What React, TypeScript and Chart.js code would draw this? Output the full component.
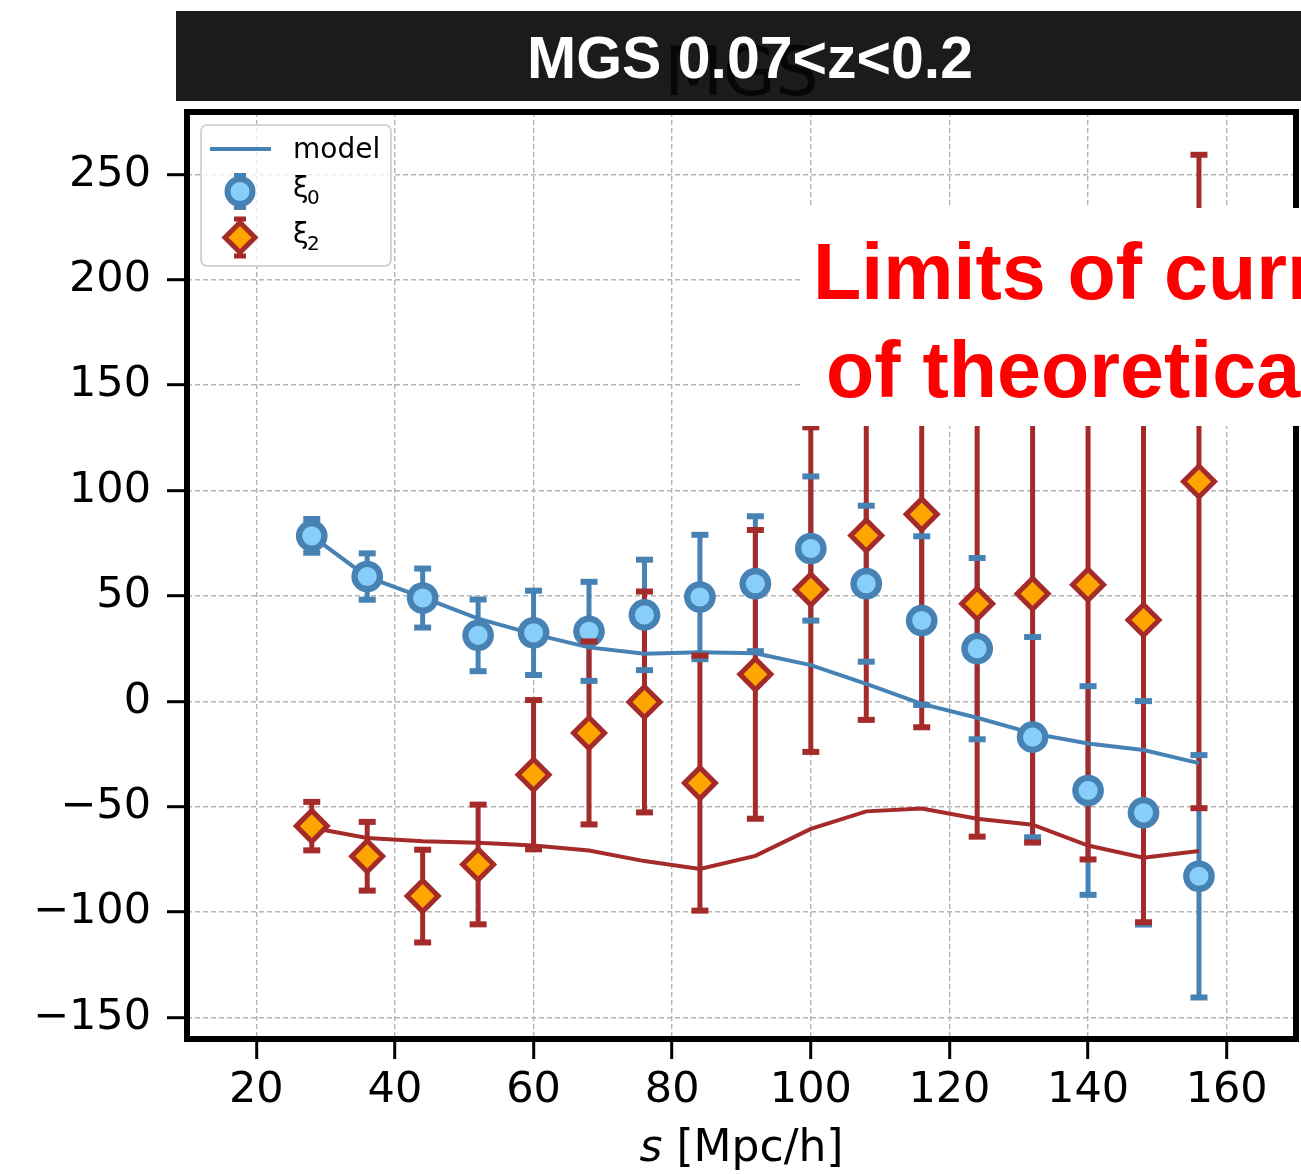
import React, { useEffect, useRef } from 'react';
import { Chart, registerables } from 'chart.js';

Chart.register(...registerables);

// ---- data ----
const sValues = [28, 36, 44, 52, 60, 68, 76, 84, 92, 100, 108, 116, 124, 132, 140, 148, 156];
const xi0 = [78.5, 59.2, 49.0, 31.3, 32.5, 33.2, 41.0, 49.5, 55.8, 72.5, 55.8, 38.3, 25.0, -17.0, -42.3, -52.9, -83.0];
const xi0Err = [8, 11, 14, 17, 20, 23.5, 26.2, 29.5, 32, 34.2, 37, 40, 43, 47.5, 49.5, 53, 57.5];
const xi2 = [-59.2, -73.5, -92.4, -77.4, -34.8, -15.0, -0.3, -38.8, 12.8, 53.0, 78.7, 88.7, 46.3, 51.0, 55.3, 38.6, 104.3];
const xi2Err = [11.5, 16.3, 22, 28.4, 35.4, 43.4, 52.4, 60.5, 68.5, 77, 87.5, 101, 110.5, 118, 130.3, 143.4, 155];
const modelXi0 = [78.5, 59.0, 49.3, 39.2, 31.9, 25.6, 22.6, 23.3, 22.8, 17.2, 8.3, -1.2, -7.8, -15.2, -20.0, -23.1, -29.3];
const modelXi2 = [-60.0, -64.8, -66.4, -67.1, -68.4, -70.8, -75.8, -79.5, -73.3, -60.5, -52.2, -50.8, -55.7, -58.5, -68.4, -74.2, -71.0];
const xTicks = [20, 40, 60, 80, 100, 120, 140, 160];
const yTicks = [-150, -100, -50, 0, 50, 100, 150, 200, 250];
const titleText = 'MGS 0.07<z<0.2';
const axesTitle = 'MGS';
const noteLines = ['Limits of curr', 'of theoretica'];

const BLUE = '#4682b4';
const LIGHTBLUE = '#87cefa';
const BROWN = '#a52a2a';
const ORANGE = '#ffa500';

function drawBars(ctx: any, xs: any, ys: any, vals: number[], errs: number[], color: string) {
  ctx.strokeStyle = color;
  ctx.lineWidth = 5;
  ctx.lineCap = 'butt';
  sValues.forEach((s, i) => {
    const px = xs.getPixelForValue(s);
    ctx.beginPath();
    ctx.moveTo(px, ys.getPixelForValue(vals[i] + errs[i]));
    ctx.lineTo(px, ys.getPixelForValue(vals[i] - errs[i]));
    ctx.stroke();
  });
}

function drawCaps(ctx: any, xs: any, ys: any, vals: number[], errs: number[], color: string) {
  ctx.strokeStyle = color;
  ctx.lineWidth = 6;
  ctx.lineCap = 'butt';
  sValues.forEach((s, i) => {
    const px = xs.getPixelForValue(s);
    [vals[i] + errs[i], vals[i] - errs[i]].forEach((v) => {
      const py = ys.getPixelForValue(v);
      ctx.beginPath();
      ctx.moveTo(px - 8.5, py);
      ctx.lineTo(px + 8.5, py);
      ctx.stroke();
    });
  });
}

const errorBarPlugin = {
  id: 'errorBars',
  beforeDatasetsDraw(chart: any) {
    const { ctx, scales } = chart;
    ctx.save();
    drawBars(ctx, scales.x, scales.y, xi0, xi0Err, BLUE);
    drawBars(ctx, scales.x, scales.y, xi2, xi2Err, BROWN);
    ctx.restore();
  },
  beforeDatasetDraw(chart: any, args: any) {
    const { ctx, scales } = chart;
    ctx.save();
    if (args.index === 0) drawCaps(ctx, scales.x, scales.y, xi0, xi0Err, BLUE);
    if (args.index === 1) drawCaps(ctx, scales.x, scales.y, xi2, xi2Err, BROWN);
    ctx.restore();
  },
};

const decorPlugin = {
  id: 'decor',
  afterDatasetsDraw(chart: any) {
    const { ctx, chartArea: a } = chart;
    ctx.save();
    ctx.strokeStyle = '#000';
    ctx.lineWidth = 6;
    ctx.lineJoin = 'miter';
    ctx.strokeRect(a.left, a.top, a.right - a.left, a.bottom - a.top);
    ctx.restore();
  },
  afterDraw(chart: any) {
    const { ctx, chartArea: a } = chart;
    ctx.save();

    // legend
    ctx.fillStyle = 'rgba(255,255,255,0.8)';
    ctx.strokeStyle = '#d4d4d4';
    ctx.lineWidth = 2;
    ctx.beginPath();
    (ctx as any).roundRect(201, 125, 190, 141, 6);
    ctx.fill();
    ctx.stroke();

    ctx.strokeStyle = BLUE;
    ctx.lineWidth = 4;
    ctx.beginPath();
    ctx.moveTo(210, 149);
    ctx.lineTo(271, 149);
    ctx.stroke();

    // xi0 legend marker
    ctx.lineWidth = 6;
    ctx.beginPath();
    ctx.moveTo(240, 175); ctx.lineTo(240, 208);
    ctx.moveTo(234, 176); ctx.lineTo(246, 176);
    ctx.moveTo(234, 207); ctx.lineTo(246, 207);
    ctx.stroke();
    ctx.beginPath();
    ctx.arc(240, 191.5, 12.5, 0, Math.PI * 2);
    ctx.fillStyle = LIGHTBLUE;
    ctx.fill();
    ctx.stroke();

    // xi2 legend marker
    ctx.strokeStyle = BROWN;
    ctx.lineWidth = 5;
    ctx.beginPath();
    ctx.moveTo(240, 218); ctx.lineTo(240, 257);
    ctx.moveTo(234, 219); ctx.lineTo(246, 219);
    ctx.moveTo(234, 256); ctx.lineTo(246, 256);
    ctx.stroke();
    ctx.beginPath();
    ctx.moveTo(240 - 15, 237.5);
    ctx.lineTo(240, 237.5 - 15);
    ctx.lineTo(240 + 15, 237.5);
    ctx.lineTo(240, 237.5 + 15);
    ctx.closePath();
    ctx.fillStyle = ORANGE;
    ctx.lineWidth = 5;
    ctx.fill();
    ctx.stroke();

    ctx.fillStyle = '#000';
    ctx.textAlign = 'left';
    ctx.textBaseline = 'alphabetic';
    ctx.font = '28px "DejaVu Sans"';
    ctx.fillText('model', 293, 158);
    ctx.fillText('ξ', 293, 197);
    ctx.fillText('ξ', 293, 243);
    ctx.font = '20px "DejaVu Sans"';
    ctx.fillText('0', 307, 204);
    ctx.fillText('2', 307, 250);

    // x axis label
    ctx.font = 'italic 44px "DejaVu Sans"';
    const w1 = ctx.measureText('s').width;
    ctx.font = '44px "DejaVu Sans"';
    const w2 = ctx.measureText(' [Mpc/h]').width;
    const cx = (a.left + a.right) / 2;
    const x0 = cx - (w1 + w2) / 2;
    ctx.font = 'italic 44px "DejaVu Sans"';
    ctx.fillText('s', x0, 1161);
    ctx.font = '44px "DejaVu Sans"';
    ctx.fillText(' [Mpc/h]', x0 + w1, 1161);

    // title bar
    ctx.fillStyle = '#1b1b1b';
    ctx.fillRect(176, 11, 1301 - 176, 90);
    ctx.textAlign = 'center';
    ctx.fillStyle = '#070707';
    ctx.font = '68px "DejaVu Sans"';
    ctx.fillText(axesTitle, cx, 95);
    ctx.fillStyle = '#ffffff';
    ctx.font = 'bold 59px "Liberation Sans"';
    ctx.fillText(titleText, 750, 78);

    // note box
    ctx.fillStyle = '#ffffff';
    ctx.fillRect(800, 208, 1301 - 800, 218);
    ctx.fillStyle = '#ff0000';
    ctx.textAlign = 'left';
    ctx.font = 'bold 79px "Liberation Sans"';
    ctx.fillText(noteLines[0], 813, 299);
    ctx.fillText(noteLines[1], 826, 397);

    ctx.restore();
  },
};

export default function App() {
  const ref = useRef<HTMLCanvasElement | null>(null);

  useEffect(() => {
    if (!ref.current) return;
    const toXY = (ys: number[]) => sValues.map((s, i) => ({ x: s, y: ys[i] }));
    const tickFont = { family: 'DejaVu Sans', size: 43 };
    const fmt = (v: any) => (v < 0 ? '\u2212' + Math.abs(v) : String(v));
    const chart = new Chart(ref.current, {
      type: 'scatter',
      data: {
        datasets: [
          {
            label: 'ξ0',
            data: toXY(xi0),
            pointStyle: 'circle',
            pointRadius: 12.7,
            pointBorderWidth: 6.3,
            pointBackgroundColor: LIGHTBLUE,
            pointBorderColor: BLUE,
            showLine: false,
            order: 2,
          },
          {
            label: 'ξ2',
            data: toXY(xi2),
            pointStyle: 'rectRot',
            pointRadius: 15.5,
            pointBorderWidth: 5,
            pointBackgroundColor: ORANGE,
            pointBorderColor: BROWN,
            showLine: false,
            order: 1,
          },
          {
            label: 'model',
            data: toXY(modelXi0),
            showLine: true,
            borderColor: BLUE,
            borderWidth: 4,
            pointRadius: 0,
            order: 4,
          },
          {
            label: 'model ξ2',
            data: toXY(modelXi2),
            showLine: true,
            borderColor: BROWN,
            borderWidth: 4,
            pointRadius: 0,
            order: 3,
          },
        ],
      } as any,
      options: {
        responsive: false,
        devicePixelRatio: 1,
        animation: false,
        layout: { autoPadding: false, padding: { left: 0, top: 112, right: 5, bottom: 0 } },
        plugins: { legend: { display: false }, title: { display: false }, tooltip: { enabled: false } },
        scales: {
          x: {
            type: 'linear',
            min: 10,
            max: 170,
            afterBuildTicks: (s: any) => { s.ticks = xTicks.map((v) => ({ value: v })); },
            afterFit: (s: any) => { s.height = 135; s.paddingLeft = 0; s.paddingRight = 0; },
            ticks: { font: tickFont, color: '#000', padding: 6, maxRotation: 0, autoSkip: false, callback: fmt },
            grid: { color: '#b4b4b4', lineWidth: 1.4, drawTicks: true, tickLength: 20, tickWidth: 3, tickColor: '#000' },
            border: { display: false, dash: [5, 3] },
          },
          y: {
            type: 'linear',
            min: -160.2,
            max: 279.6,
            afterBuildTicks: (s: any) => { s.ticks = yTicks.map((v) => ({ value: v })); },
            afterFit: (s: any) => { s.width = 187; s.paddingTop = 0; s.paddingBottom = 0; },
            ticks: { font: tickFont, color: '#000', padding: 16, autoSkip: false, callback: fmt },
            grid: { color: '#b4b4b4', lineWidth: 1.4, drawTicks: true, tickLength: 20, tickWidth: 3, tickColor: '#000' },
            border: { display: false, dash: [5, 3] },
          },
        },
      } as any,
      plugins: [errorBarPlugin, decorPlugin],
    });
    return () => chart.destroy();
  }, []);

  return (
    <div style={{ position: 'fixed', left: 0, top: 0, width: 1301, height: 1174, background: '#fff', overflow: 'hidden' }}>
      <canvas ref={ref} width={1301} height={1174} style={{ display: 'block', width: 1301, height: 1174 }} />
    </div>
  );
}
